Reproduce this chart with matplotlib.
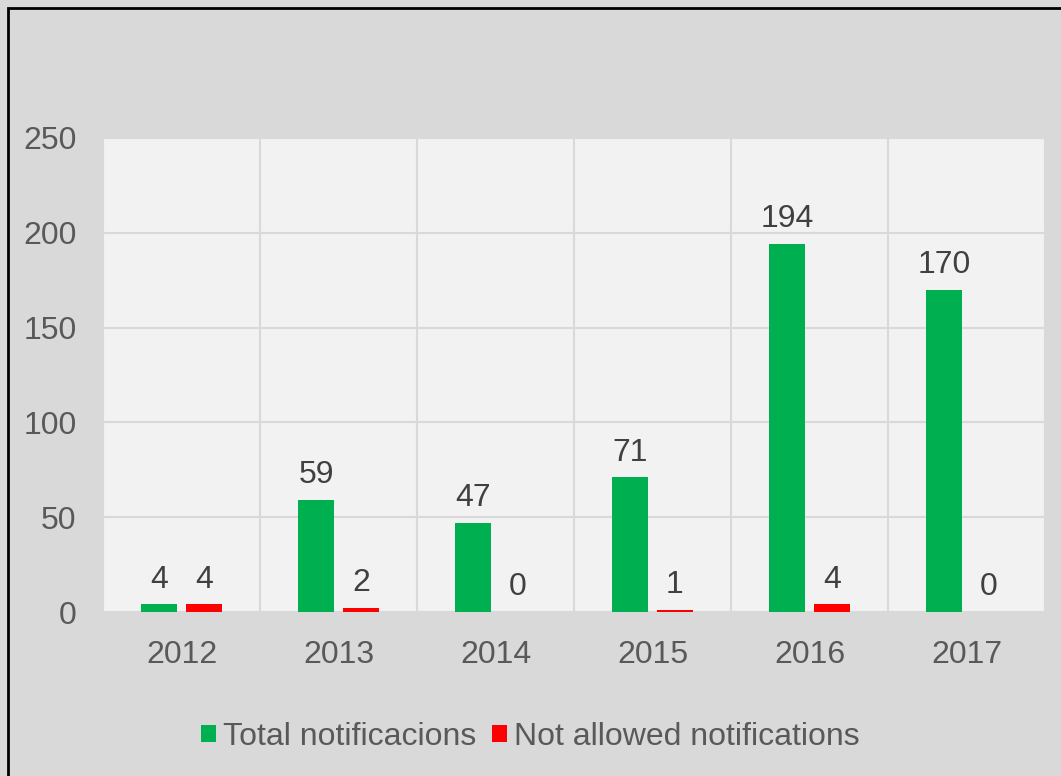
import matplotlib
matplotlib.use('Agg')
import matplotlib.pyplot as plt
import numpy as np
from matplotlib import patches

years = ['2012', '2013', '2014', '2015', '2016', '2017']
total = [4, 59, 47, 71, 194, 170]
not_allowed = [4, 2, 0, 1, 4, 0]

plt.rcParams['font.family'] = ['Liberation Sans', 'DejaVu Sans']
FS = 23

fig = plt.figure(figsize=(10.61, 7.76), dpi=100)
fig.patch.set_facecolor('#d9d9d9')
ax = fig.add_axes([103/1061, 1-612/776, (1045-103)/1061, (612-138)/776])
ax.set_facecolor('#f2f2f2')

x = np.arange(len(years))
w = 0.23
off = 0.143
b1 = ax.bar(x - off, total, w, color='#00b050', label='Total notificacions', zorder=3)
b2 = ax.bar(x + off, not_allowed, w, color='#ff0000', label='Not allowed notifications', zorder=3)

for bars in (b1, b2):
    ax.bar_label(bars, padding=7, fontsize=FS, color='#404040')

ax.set_xlim(-0.5, len(years) - 0.5)
ax.set_ylim(0, 250)
ax.set_yticks(range(0, 251, 50))
ax.set_xticks(x)
ax.set_xticklabels(years)
ax.tick_params(length=0, labelsize=FS, colors='#595959')
ax.tick_params(axis='x', pad=20)
ax.tick_params(axis='y', pad=19)

ax.set_xticks(np.arange(-0.5, len(years), 1), minor=True)
ax.tick_params(which='minor', length=0)
ax.grid(axis='y', which='major', color='#d9d9d9', lw=1.5, zorder=0)
ax.grid(axis='x', which='minor', color='#d9d9d9', lw=1.5, zorder=0)
ax.grid(axis='x', which='major', visible=False)
for s in ax.spines.values():
    s.set_visible(False)

fig.legend(loc='center', bbox_to_anchor=(530/1061, 1-737/776), ncol=2, frameon=False,
           fontsize=FS, labelcolor='#595959', handlelength=0.47, handleheight=0.47,
           handletextpad=0.22, columnspacing=0.5)

fig.patches.append(patches.Rectangle((8/1061, -0.1), 1.2, 1-8/776+0.1, transform=fig.transFigure,
                                     fill=False, ec='black', lw=2))

fig.savefig('out.png', dpi=100, facecolor=fig.get_facecolor())
